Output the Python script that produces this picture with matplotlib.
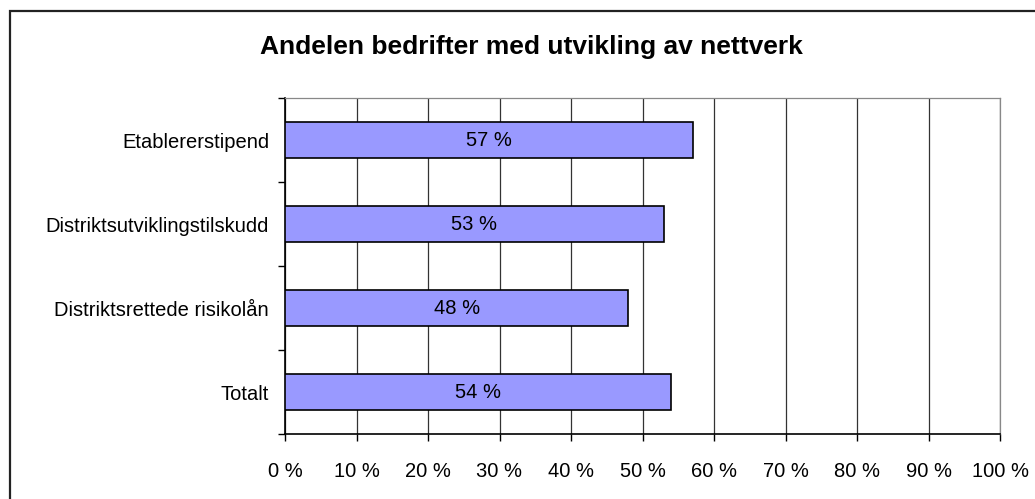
import matplotlib.pyplot as plt
from matplotlib.patches import Rectangle
from matplotlib.ticker import MultipleLocator, FuncFormatter

plt.rcParams['font.family'] = ['Liberation Sans', 'DejaVu Sans']

categories = ['Etablererstipend', 'Distriktsutviklingstilskudd', 'Distriktsrettede risikolån', 'Totalt']
values = [57, 53, 48, 54]
title = 'Andelen bedrifter med utvikling av nettverk'

fig = plt.figure(figsize=(10.35, 4.99), dpi=100)
ax = fig.add_axes([285 / 1035, 1 - 434 / 499, 715 / 1035, 336 / 499])

# outer frame of the chart
fig.patches.append(Rectangle((10 / 1035, -0.05), 1.1, 1 - 11 / 499 + 0.05,
                             transform=fig.transFigure, fill=False,
                             edgecolor='#222', linewidth=1.6))

ypos = list(range(len(categories)))[::-1]
bars = ax.barh(ypos, values, height=0.44, color='#9999FF', edgecolor='black',
               linewidth=1.2, zorder=3)
for y, v in zip(ypos, values):
    ax.text(v / 2, y, f'{v} %', ha='center', va='center', fontsize=14.5, zorder=4)

ax.set_xlim(0, 100)
ax.set_ylim(-0.5, len(categories) - 0.5)
ax.xaxis.set_major_locator(MultipleLocator(10))
ax.xaxis.set_major_formatter(FuncFormatter(lambda x, _: f'{x:.0f} %'))
ax.grid(axis='x', color='#333', linewidth=0.9, zorder=0)

ax.set_yticks(ypos)
ax.set_yticklabels(categories, fontsize=14.5)
ax.set_yticks([y + 0.5 for y in range(-1, len(categories))], minor=True)
ax.tick_params(axis='y', which='major', length=0, pad=11.5)
ax.tick_params(axis='y', which='minor', length=5, width=1, direction='out')
ax.tick_params(axis='x', which='major', length=5, width=1, direction='out',
               labelsize=14.5, pad=15)

for s in ['left', 'bottom']:
    ax.spines[s].set_color('black')
    ax.spines[s].set_linewidth(1.2)
for s in ['top', 'right']:
    ax.spines[s].set_color('#888')
    ax.spines[s].set_linewidth(0.9)

fig.text(531 / 1035, 1 - 47 / 499, title, ha='center', va='center',
         fontsize=19, fontweight='bold')

fig.savefig('out.png', dpi=100)
